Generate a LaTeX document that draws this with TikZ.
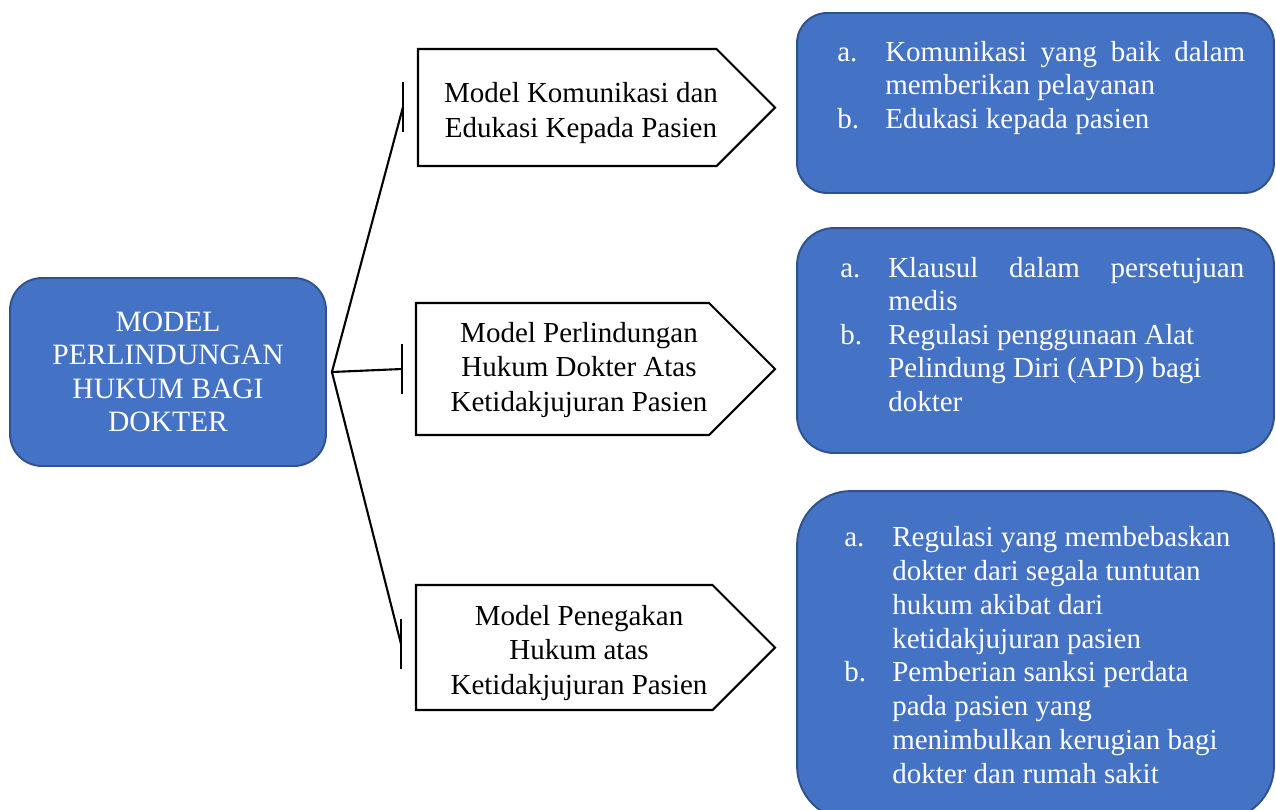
\documentclass[tikz,border=0pt]{standalone}
\usepackage{fontspec}
\setmainfont{Liberation Serif}
\usepackage{xcolor}
\usepackage{tikz}
\usetikzlibrary{calc}
\definecolor{boxblue}{HTML}{4472C4}
\definecolor{boxedge}{HTML}{2F528F}
\tolerance=10000
\hbadness=10000
\newcommand{\pitem}[2]{\hangindent=27.3pt\hangafter=1\noindent\makebox[27.3pt][l]{#1}#2\par}
\tikzset{
  bluebox/.style={draw=boxedge, fill=boxblue, line width=1.1pt},
  itemtext/.style={text=white, anchor=north west, inner sep=0pt, align=justify,
    font=\fontsize{16.5}{19.1}\selectfont},
  modeltext/.style={align=center, inner sep=0pt, font=\fontsize{16.5}{19.6}\selectfont},
  pentagon/.style={draw=black, line width=1.2pt, line join=miter},
  link/.style={black, line width=1.2pt}
}

\begin{document}
\begin{tikzpicture}[x=0.02cm, y=-0.02cm]
\clip (0,0) rectangle (1276,809);

% left box
\node[bluebox, rounded corners=0.64cm, minimum width=6.32cm, minimum height=3.76cm,
  text=white, align=center, font=\fontsize{16.8}{19.1}\selectfont] (mainbox) at (168,372)
  {MODEL\\PERLINDUNGAN\\HUKUM BAGI\\DOKTER};

% middle column
\draw[pentagon] (418,49) -- (716.5,49) -- (775,107.5) -- (716.5,166) -- (418,166) -- cycle;
\draw[pentagon] (416,303) -- (709,303) -- (775,369) -- (709,435) -- (416,435) -- cycle;
\draw[pentagon] (416,585) -- (712.5,585) -- (775,647.5) -- (712.5,710) -- (416,710) -- cycle;
\node[modeltext] (m1) at (581,113) {Model Komunikasi dan\\Edukasi Kepada Pasien};
\node[modeltext] (m2) at (579,370) {Model Perlindungan\\Hukum Dokter Atas\\Ketidakjujuran Pasien};
\node[modeltext] (m3) at (579,653) {Model Penegakan\\Hukum atas\\Ketidakjujuran Pasien};

% connectors
\coordinate (hub) at ([xshift=0.1cm]mainbox.east);
\coordinate (b1) at (403,107);
\coordinate (b2) at (402,369);
\coordinate (b3) at (401,644);
\foreach \b in {b1,b2,b3} {
  \draw[link] (hub) -- (\b);
  \draw[link] ([yshift=0.5cm]\b) -- ([yshift=-0.5cm]\b);
}

% right column
\node[bluebox, rounded corners=0.6cm, minimum width=9.54cm, minimum height=3.6cm] (r1) at (1035.5,103) {};
\node[bluebox, rounded corners=0.74cm, minimum width=9.54cm, minimum height=4.5cm] (r2) at (1035.5,340.5) {};
\node[bluebox, rounded corners=1.08cm, minimum width=9.54cm, minimum height=6.58cm] (r3) at (1035.5,655.5) {};

\node[itemtext, text width=8.16cm] (t1) at (837,40.7) {%
  \pitem{a.}{Komunikasi yang baik dalam\linebreak memberikan pelayanan}
  \pitem{b.}{Edukasi kepada pasien}};
\node[itemtext, text width=8.08cm] (t2) at (840,256.7) {%
  \pitem{a.}{Klausul dalam persetujuan\linebreak medis}
  \pitem{b.}{Regulasi penggunaan Alat\newline Pelindung Diri (APD) bagi\newline dokter}};
\node[itemtext, text width=8.2cm, font=\fontsize{16.5}{19.25}\selectfont] (t3) at (844,526.2) {%
  \pitem{a.}{Regulasi yang membebaskan\newline dokter dari segala tuntutan\newline hukum akibat dari\newline ketidakjujuran pasien}
  \pitem{b.}{Pemberian sanksi perdata\newline pada pasien yang\newline menimbulkan kerugian bagi\newline dokter dan rumah sakit}};
\end{tikzpicture}
\end{document}
